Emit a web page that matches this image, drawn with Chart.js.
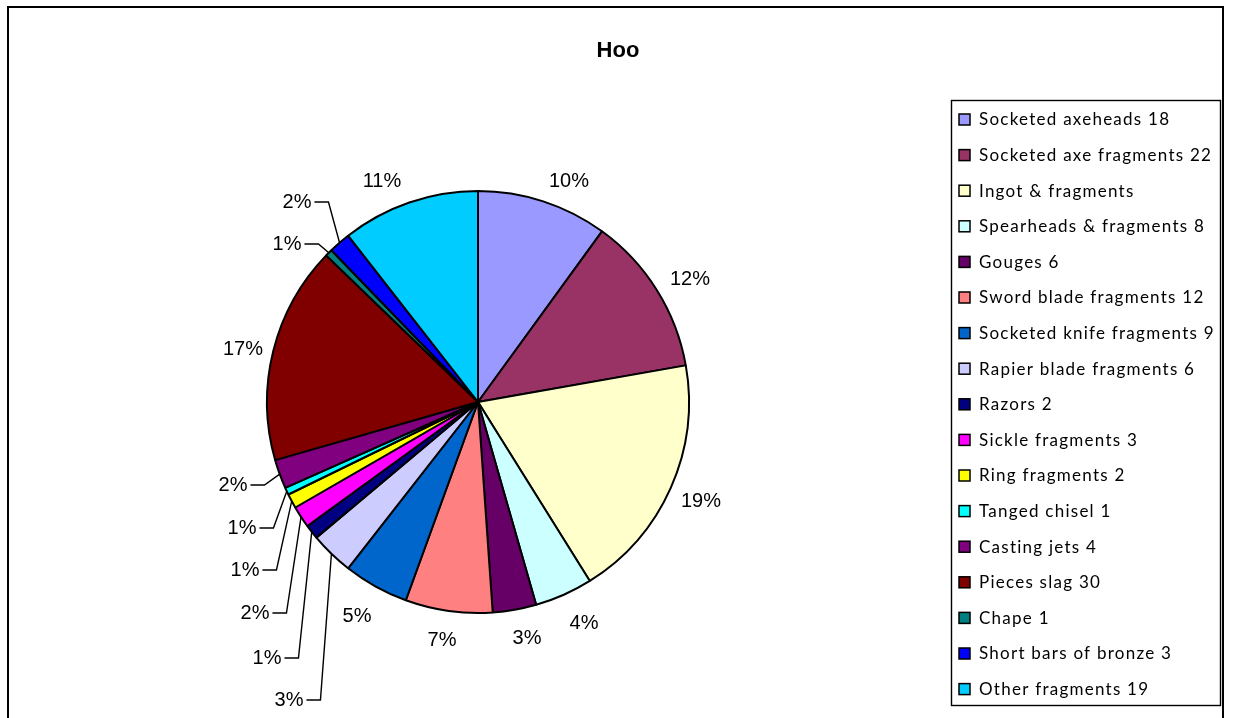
<!DOCTYPE html>
<html>
<head>
<meta charset="utf-8">
<title>Hoo</title>
<script src="https://cdn.jsdelivr.net/npm/chart.js@4.4.1/dist/chart.umd.min.js"></script>
<style>
  html, body { margin: 0; padding: 0; background: #fff; }
  canvas { display: block; }
</style>
</head>
<body>
<canvas id="hooChart" width="1234" height="718"></canvas>
<script>
// chart data
const chartTitle = 'Hoo';
const categories = [
  'Socketed axeheads 18', 'Socketed axe fragments 22', 'Ingot & fragments',
  'Spearheads & fragments 8', 'Gouges 6', 'Sword blade fragments 12',
  'Socketed knife fragments 9', 'Rapier blade fragments 6', 'Razors 2',
  'Sickle fragments 3', 'Ring fragments 2', 'Tanged chisel 1',
  'Casting jets 4', 'Pieces slag 30', 'Chape 1', 'Short bars of bronze 3',
  'Other fragments 19'
];
const counts = [18, 22, 34, 8, 6, 12, 9, 6, 2, 3, 2, 1, 4, 30, 1, 3, 19];
const sliceColours = [
  '#9999FF', '#993366', '#FFFFCC', '#CCFFFF', '#660066', '#FF8080',
  '#0066CC', '#CCCCFF', '#000080', '#FF00FF', '#FFFF00', '#00FFFF',
  '#800080', '#800000', '#008080', '#0000FF', '#00CCFF'
];

// where each % label sits, as an offset from the pie centre
const labelOffsets = [
  [91, -221], [212, -123], [223, 99], [106, 221], [49, 236], [-36, 238],
  [-121, 214], [-189, 298], [-211, 256], [-223, 211], [-233, 168],
  [-236, 126], [-245, 83], [-235, -53], [-191, -158], [-181, -200],
  [-96, -221]
];
// these ones get an elbow leader line back to the slice
const leaderLabels = [7, 8, 9, 10, 11, 12, 14, 15];

const total = counts.reduce((a, b) => a + b, 0);

// frame, title, % labels and the boxed legend
const hooDecor = {
  id: 'hooDecor',
  beforeDraw(chart) {
    const ctx = chart.ctx;
    ctx.save();
    ctx.fillStyle = '#fff';
    ctx.fillRect(0, 0, chart.width, chart.height);

    ctx.strokeStyle = '#000';
    ctx.lineWidth = 2;
    ctx.beginPath();
    ctx.moveTo(8, chart.height + 4);
    ctx.lineTo(8, 7);
    ctx.lineTo(1223, 7);
    ctx.lineTo(1223, chart.height + 4);
    ctx.stroke();

    ctx.fillStyle = '#000';
    ctx.font = 'bold 22px "Liberation Sans", Arial, sans-serif';
    ctx.textAlign = 'center';
    ctx.textBaseline = 'alphabetic';
    ctx.fillText(chartTitle, 618, 57);
    ctx.restore();
  },
  afterDatasetsDraw(chart) {
    const ctx = chart.ctx;
    const arcs = chart.getDatasetMeta(0).data;
    ctx.save();

    // percentage labels
    ctx.font = '20px "Liberation Sans", Arial, sans-serif';
    ctx.fillStyle = '#000';
    ctx.strokeStyle = '#000';
    ctx.lineWidth = 1.4;
    ctx.textAlign = 'center';
    ctx.textBaseline = 'middle';
    arcs.forEach((arc, i) => {
      const p = arc.getProps(['x', 'y', 'startAngle', 'endAngle', 'outerRadius'], true);
      const txt = Math.round(counts[i] / total * 100) + '%';
      const tx = p.x + labelOffsets[i][0];
      const ty = p.y + labelOffsets[i][1];
      ctx.fillText(txt, tx, ty);

      if (leaderLabels.includes(i)) {
        const mid = (p.startAngle + p.endAngle) / 2;
        const ex = p.x + p.outerRadius * Math.cos(mid);
        const ey = p.y + p.outerRadius * Math.sin(mid);
        const sx = tx + ctx.measureText(txt).width / 2 + 3;
        ctx.beginPath();
        ctx.moveTo(sx, ty);
        ctx.lineTo(sx + 14, ty);
        ctx.lineTo(ex, ey);
        ctx.stroke();
      }
    });

    // legend box
    ctx.lineWidth = 1.4;
    ctx.strokeRect(951.5, 100.5, 269, 605);
    ctx.font = '17px Lato, "Open Sans", sans-serif';
    ctx.letterSpacing = '1.25px';
    ctx.textAlign = 'left';
    categories.forEach((name, i) => {
      const yc = 120 + i * 35.6;
      ctx.fillStyle = sliceColours[i];
      ctx.fillRect(959, yc - 6, 11, 11);
      ctx.lineWidth = 1.5;
      ctx.strokeRect(959, yc - 6, 11, 11);
      ctx.fillStyle = '#000';
      ctx.fillText(name, 979, yc);
    });
    ctx.restore();
  }
};

const chartEl = document.getElementById('hooChart');

new Chart(chartEl, {
  type: 'pie',
  data: {
    labels: categories,
    datasets: [{
      data: counts,
      backgroundColor: sliceColours,
      borderColor: '#000000',
      borderWidth: 2
    }]
  },
  options: {
    responsive: false,
    animation: false,
    radius: 211,
    layout: {
      padding: { top: 100, bottom: 14, left: 0, right: 278 }
    },
    plugins: {
      legend: { display: false },
      tooltip: { enabled: false },
      title: { display: false }
    }
  },
  plugins: [hooDecor]
});
</script>
</body>
</html>
